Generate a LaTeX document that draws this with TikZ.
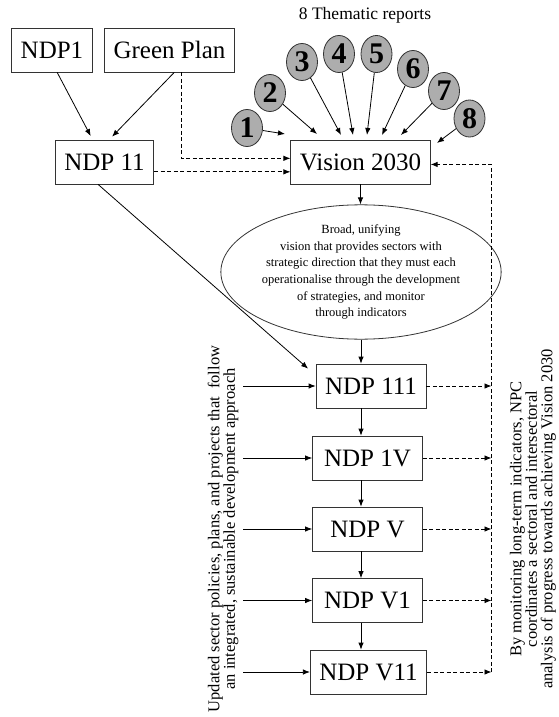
\documentclass[tikz,border=0pt]{standalone}
\usepackage{fontspec}
\setmainfont{Liberation Serif}
\usetikzlibrary{arrows.meta,shapes.geometric}

\tikzset{
  plan/.style={draw=black!80, inner xsep=9pt, minimum height=44pt, font=\fontsize{25}{25}\selectfont},
  ndp/.style={plan, minimum width=110pt},
  report/.style={ellipse, draw=black!80, fill=black!32, minimum width=31pt, minimum height=37pt, inner sep=0pt, font=\bfseries\fontsize{30}{30}\selectfont},
  arr/.style={-{Latex[length=7pt,width=5.5pt]}},
  darr/.style={arr, dash pattern=on 4pt off 2.5pt},
  note/.style={rotate=90, align=center, font=\fontsize{16.5}{15.5}\selectfont}
}

\begin{document}
\begin{tikzpicture}[x=1pt, y=-1pt, line width=0.8pt]
\useasboundingbox (0,0) rectangle (558,717);
% earlier plans and the vision
\node[plan] (ndp1) at (52,50) {NDP1}; \node[plan] (green) at (169.5,50) {Green Plan};
\node[plan] (ndp11) at (104.5,162) {NDP 11}; \node[plan] (vision) at (360.5,162) {Vision 2030};
\draw[arr, shorten >=4pt] (ndp1.283) -- (ndp11.118);
\draw[arr, shorten >=4pt] (green.282) -- (ndp11.78);
\draw[darr] (green.298) |- (vision.177);
\draw[darr] (ndp11.east |- vision.188) -- (vision.188);

% thematic reports
\node[font=\fontsize{17.5}{17.5}\selectfont] (title) at (365,15) {8 Thematic reports};
\node[report] (r1) at (247,128) {1}; \coordinate (in1) at (285,134);
\node[report] (r2) at (270,93) {2};  \coordinate (in2) at (317,134);
\node[report] (r3) at (302,62) {3};  \coordinate (in3) at (341,135);
\node[report] (r4) at (339,54) {4};  \coordinate (in4) at (353,135);
\node[report] (r5) at (376.5,54) {5};  \coordinate (in5) at (367,135);
\node[report] (r6) at (413,69) {6};  \coordinate (in6) at (382,135);
\node[report] (r7) at (444,91) {7};  \coordinate (in7) at (401,135);
\node[report] (r8) at (469.5,118.5) {8};  \coordinate (in8) at (437,143);
\draw[arr] (r1) -- (in1); \draw[arr] (r2) -- (in2); \draw[arr] (r3) -- (in3); \draw[arr] (r4) -- (in4);
\draw[arr] (r5) -- (in5); \draw[arr] (r6) -- (in6); \draw[arr] (r7) -- (in7); \draw[arr] (r8) -- (in8);

% vision statement
\node[ellipse, draw=black!80, minimum width=212pt, minimum height=130pt, inner sep=0pt, align=center,
  font=\fontsize{12.5}{16.7}\selectfont] (aim) at (361,272)
  {Broad, unifying\\vision that provides sectors with\\strategic direction that they must each\\operationalise through the development\\of strategies, and monitor\\through indicators};
\draw[arr] (vision.south) -- (vision.south |- aim.north);

% national development plans
\node[ndp] (p3) at (371,386) {NDP 111};
\node[ndp] (p4) at (367.5,458) {NDP 1V};
\node[ndp] (p5) at (367.5,529) {NDP V};
\node[ndp] (p6) at (367.5,600.5) {NDP V1};
\node[ndp, minimum width=115pt] (p7) at (368.5,672) {NDP V11};
\draw[arr] (aim.south) -- (aim.south |- p3.north);
\draw[arr] (p3.south -| aim) -- (p4.north -| aim);
\draw[arr] (p4.south -| aim) -- (p5.north -| aim);
\draw[arr] (p5.south -| aim) -- (p6.north -| aim);
\draw[arr] (p6.south -| aim) -- (p7.north -| aim);
\draw[arr, shorten >=10pt] (ndp11.254) -- (p3.169);

% sector inputs and monitoring
\coordinate (src) at (243,0); \coordinate (rail) at (491.5,0);
\draw[arr] (p3.west -| src) -- (p3.west); \draw[darr] (p3.east) -- (p3.east -| rail);
\draw[arr] (p4.west -| src) -- (p4.west); \draw[darr] (p4.east) -- (p4.east -| rail);
\draw[arr] (p5.west -| src) -- (p5.west); \draw[darr] (p5.east) -- (p5.east -| rail);
\draw[arr] (p6.west -| src) -- (p6.west); \draw[darr] (p6.east) -- (p6.east -| rail);
\draw[arr] (p7.west -| src) -- (p7.west); \draw[darr] (p7.east) -- (p7.east -| rail);
\draw[darr] (p7.east -| rail) |- (vision.358);
\node[note] (inputs) at (223,529) {Updated sector policies, plans, and projects that~ follow\\an integrated, sustainable development approach};
\node[note] (monitor) at (533,519) {By monitoring long-term indicators, NPC\\coordinates a sectoral and intersectoral\\analysis of progress towards achieving Vision 2030};
\end{tikzpicture}
\end{document}
